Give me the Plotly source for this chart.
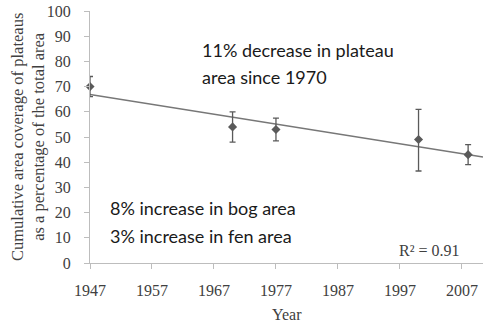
import numpy as np
import plotly.graph_objects as go

# Survey years and plateau coverage (% of total area) with error ranges
years = [1947, 1970, 1977, 2000, 2008]
coverage = [70, 54, 53, 49, 43]
err_plus = [4, 6, 4.5, 12, 4]
err_minus = [4, 6, 4.5, 12.5, 4]

x_ticks = [1947, 1957, 1967, 1977, 1987, 1997, 2007]
y_ticks = [0, 10, 20, 30, 40, 50, 60, 70, 80, 90, 100]
x_range = [1947, 2010.4]

# Linear trend fitted to the survey values
slope, intercept = np.polyfit(years, coverage, 1)
pred = np.polyval([slope, intercept], years)
ss_res = np.sum((np.array(coverage) - pred) ** 2)
ss_tot = np.sum((np.array(coverage) - np.mean(coverage)) ** 2)
r2 = 1 - ss_res / ss_tot
trend_x = np.array(x_range)
trend_y = slope * trend_x + intercept

serif = "Liberation Serif, Times New Roman, serif"
sans = "Lato, Open Sans, sans-serif"
grey_text = "#404040"

fig = go.Figure()
fig.add_trace(go.Scatter(
    x=trend_x, y=trend_y, mode="lines",
    line=dict(color="#777777", width=1.5),
    hoverinfo="skip", cliponaxis=False,
))
fig.add_trace(go.Scatter(
    x=years, y=coverage, mode="markers",
    marker=dict(symbol="diamond", size=7, color="#5a5a5a"),
    error_y=dict(type="data", symmetric=False, array=err_plus, arrayminus=err_minus,
                 color="#5a5a5a", thickness=1.3, width=3),
    cliponaxis=False,
))

axis_common = dict(
    showline=True, linecolor="#bdbdbd", linewidth=1,
    ticks="outside", ticklen=5, tickcolor="#bdbdbd",
    showgrid=False, zeroline=False,
    tickfont=dict(family=serif, size=16, color=grey_text),
)
fig.update_xaxes(range=x_range, tickvals=x_ticks, ticklabelstandoff=8, **axis_common)
fig.update_yaxes(range=[0, 100], tickvals=y_ticks, ticklabelstandoff=10, **axis_common)

annots = [
    dict(text="11% decrease in plateau", x=1964.7, y=(263.3 - 50) / 2.526),
    dict(text="area since 1970", x=1964.7, y=(263.3 - 77) / 2.526),
    dict(text="8% increase in bog area", x=1949.9, y=(263.3 - 208) / 2.526),
    dict(text="3% increase in fen area", x=1949.9, y=(263.3 - 236) / 2.526),
]
for a in annots:
    fig.add_annotation(xref="x", yref="y", xanchor="left", yanchor="middle",
                       showarrow=False, font=dict(family=sans, size=18, color="#1a1a1a"), **a)

fig.add_annotation(xref="x", yref="y", x=2007, y=4.9, xanchor="right", yanchor="middle",
                   text=f"R² = {r2:.2f}", showarrow=False,
                   font=dict(family=serif, size=16, color=grey_text))

# Axis titles
fig.add_annotation(xref="paper", yref="paper", x=0.5, y=0, yshift=-51,
                   xanchor="center", yanchor="middle", text="Year", showarrow=False,
                   font=dict(family=serif, size=16, color=grey_text))
fig.add_annotation(xref="paper", yref="paper", x=0, y=0.5, xshift=-62,
                   xanchor="center", yanchor="middle", textangle=-90,
                   text="Cumulative area coverage of plateaus<br>as a percentage of the total area",
                   showarrow=False,
                   font=dict(family=serif, size=16.5, color=grey_text))

fig.update_layout(
    width=483, height=325,
    margin=dict(l=90, r=0, t=11, b=62),
    paper_bgcolor="white", plot_bgcolor="white",
    showlegend=False,
)

fig.write_html("out.html")
